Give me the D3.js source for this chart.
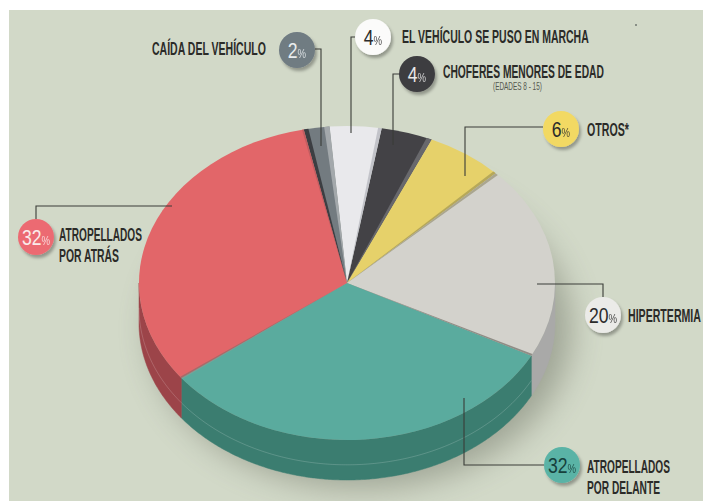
<!DOCTYPE html>
<html>
<head>
<meta charset="utf-8">
<script src="https://cdn.jsdelivr.net/npm/d3@7"></script>
<style>
html,body{margin:0;padding:0;background:#fff;overflow:hidden}
svg{display:block}
text{font-family:"Liberation Sans",Roboto,sans-serif}
</style>
</head>
<body>
<svg id="c" width="703" height="501"></svg>
<script>
// ---------- data ----------
const categories = ["CAÍDA DEL VEHÍCULO","EL VEHÍCULO SE PUSO EN MARCHA","CHOFERES MENORES DE EDAD","OTROS*","HIPERTERMIA","ATROPELLADOS POR DELANTE","ATROPELLADOS POR ATRÁS"];
const values = [2,4,4,6,20,32,32];

// ---------- styles ----------
const faceColors = ["#737b80","#e9e9ec","#434246","#e6d16a","#d3d2cc","#5aab9e","#e26669"];
const sideColors = ["#555","#bbb","#333","#b5a552","#a9a9a8","#3b7d70","#9c4449"];
const bubbleColors = ["#6f7b82","#fbfbfa","#3d3c40","#f2d964","#ebebe8","#5ab3a6","#ec6b72"];
const bubbleText = ["#e8ecee","#2c2c2c","#e8e8e8","#2c2c2c","#2c2c2c","#16403c","#fbeaea"];

// ---------- layout ----------
const bubbleX = [297,373,417,561,603,562,36];
const bubbleY = [50,37,74,129,315,465,237];
const leaderPts = [
  [[315,49],[321,49],[321,146]],
  [[357,37],[351,37],[351,133]],
  [[400,74],[393,74],[393,145]],
  [[543,127],[465,127],[465,176]],
  [[603,297],[603,284],[537,284]],
  [[544,465],[464,465],[464,398]],
  [[36,219],[36,206],[172,206]]
];
const labelLines = [
  [{t:"CAÍDA DEL VEHÍCULO",x:152,y:55,w:114}],
  [{t:"EL VEHÍCULO SE PUSO EN MARCHA",x:402,y:43,w:187}],
  [{t:"CHOFERES MENORES DE EDAD",x:443,y:78,w:161}],
  [{t:"OTROS*",x:587,y:136,w:42}],
  [{t:"HIPERTERMIA",x:628,y:322,w:73}],
  [{t:"ATROPELLADOS",x:587,y:473,w:83},{t:"POR DELANTE",x:587,y:494,w:73}],
  [{t:"ATROPELLADOS",x:59,y:241,w:83},{t:"POR ATRÁS",x:59,y:262,w:60}]
];
const cx = 347, cy = 283, rx = 208, ry = 157, depth = 40;
const deg = Math.PI/180;

const svg = d3.select("#c");
const defs = svg.append("defs");
defs.append("filter").attr("id","blur").attr("x","-30%").attr("y","-30%").attr("width","160%").attr("height","160%")
  .append("feGaussianBlur").attr("stdDeviation",16);
const ds = defs.append("filter").attr("id","ds").attr("x","-40%").attr("y","-40%").attr("width","180%").attr("height","180%");
ds.append("feDropShadow").attr("dx",2).attr("dy",3).attr("stdDeviation",1.8).attr("flood-color","#000").attr("flood-opacity",.3);
defs.append("clipPath").attr("id","panel").append("rect").attr("x",9).attr("y",10).attr("width",694).attr("height",491);

// background
svg.append("rect").attr("x",9).attr("y",10).attr("width",694).attr("height",491).attr("fill","#d2d9c8");
svg.append("circle").attr("cx",636).attr("cy",25).attr("r",1).attr("fill","#6f7670");

// soft shadow behind the disc
svg.append("g").attr("clip-path","url(#panel)").append("ellipse")
  .attr("cx",cx+14).attr("cy",cy+depth+6).attr("rx",rx+2).attr("ry",ry+2)
  .attr("fill","#5e6354").attr("opacity",.45).attr("filter","url(#blur)");

// pie
const pie = d3.pie().sort(null).value(d=>d).startAngle(-12*deg).endAngle(348*deg);
const slices = pie(values);
const yScale = ry/rx;

// side walls
const px = a => cx + rx*Math.sin(a);
const py = (a,o) => cy - ry*Math.cos(a) + o;
const line = d3.line();
const wall = svg.append("g");
slices.forEach((s,i)=>{
  const a0 = Math.max(s.startAngle,90*deg), a1 = Math.min(s.endAngle,270*deg);
  if(a1<=a0) return;
  const n = Math.ceil((a1-a0)/(0.5*deg));
  const as = d3.range(n+1).map(k=>a0+(a1-a0)*k/n);
  const top = as.map(a=>[px(a),py(a,0)]);
  const bot = as.map(a=>[px(a),py(a,depth)]).reverse();
  wall.append("path").attr("d",line(top.concat(bot))+"Z").attr("fill",sideColors[i]).attr("stroke",sideColors[i]).attr("stroke-width",.5);
  if(i>=5){
    wall.append("path").attr("d",line(as.map(a=>[px(a),py(a,depth*.62)])))
      .attr("fill","none").attr("stroke","#fff").attr("stroke-opacity",.22).attr("stroke-width",.8);
  }
});

// top face
const face = svg.append("g").attr("transform",`translate(${cx},${cy}) scale(1,${yScale})`);
const arc = d3.arc().innerRadius(0).outerRadius(rx);
face.selectAll("path.slice").data(slices).join("path").attr("class","slice")
  .attr("d",arc).attr("fill",(d,i)=>faceColors[i]);

// bevel strips along slice edges
const stripSlice = [0,0,1,2,3,4,4,5,6,6];
const stripEnd   = [0,1,1,1,1,0,1,1,0,1];
const stripDeg   = [1.3,1.5,1.0,1.5,0.9,0.9,0.7,0.5,0.5,0.5];
const stripColor = ["#3c3e42","#a3a8ab","#c2c3c9","#68686c","#b6a85a","#aaa68f","#8f8d86","#76a399","#a56c6b","#c15d60"];
face.selectAll("path.strip").data(stripSlice).join("path").attr("class","strip")
  .attr("d",(s,k)=>{
    const d = slices[s], w = stripDeg[k]*deg;
    return stripEnd[k] ? arc({startAngle:d.endAngle-w,endAngle:d.endAngle})
                       : arc({startAngle:d.startAngle,endAngle:d.startAngle+w});
  })
  .attr("fill",(s,k)=>stripColor[k]);

// leaders
svg.append("g").selectAll("path").data(leaderPts).join("path")
  .attr("d",d=>line(d)).attr("fill","none").attr("stroke","#3a3d38").attr("stroke-width",1.1);

// bubbles
const bub = svg.append("g").selectAll("g").data(values).join("g")
  .attr("transform",(d,i)=>`translate(${bubbleX[i]},${bubbleY[i]})`);
bub.append("circle").attr("r",18).attr("fill",(d,i)=>bubbleColors[i]).attr("filter","url(#ds)");
const bt = bub.append("text").attr("text-anchor","middle").attr("transform","translate(0,7.5) scale(.8,1)").attr("fill",(d,i)=>bubbleText[i]);
bt.append("tspan").attr("font-size",22).text(d=>d);
bt.append("tspan").attr("font-size",12).attr("opacity",.85).text("%");

// labels: squeezed to the condensed width of the original lettering
const lab = svg.append("g").attr("fill","#2b2b28").attr("font-weight","700").attr("font-size",19);
function fit(sel, l){
  sel.text(l.t);
  const s = l.w/sel.node().getComputedTextLength();
  sel.attr("transform",`translate(${l.x},${l.y}) scale(${s},1)`);
}
labelLines.forEach((ls,i)=>ls.forEach(l=>{
  fit(lab.append("text").attr("data-category",categories[i]), l);
}));
fit(svg.append("text").attr("font-size",10).attr("fill","#55584f"), {t:"(EDADES 8 - 15)",x:493,y:90,w:49});
</script>
</body>
</html>
